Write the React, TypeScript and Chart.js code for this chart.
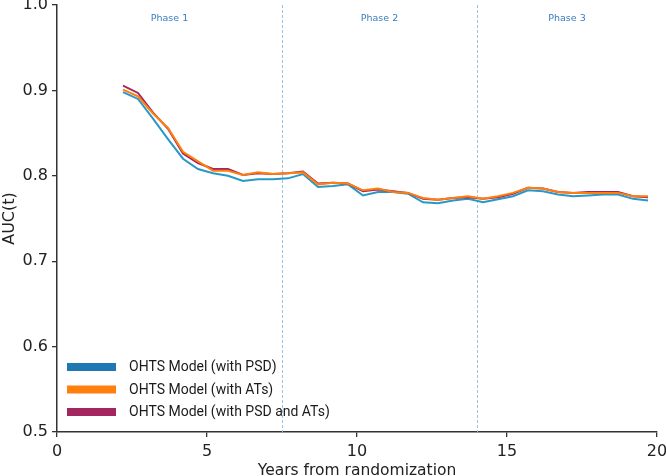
import React, { useEffect, useRef } from "react";
import { Chart, registerables } from "chart.js";

Chart.register(...registerables);

const years = [2.2, 2.7, 3.2, 3.7, 4.2, 4.7, 5.2, 5.7, 6.2, 6.7, 7.2, 7.7, 8.2, 8.7, 9.2, 9.7, 10.2, 10.7, 11.2, 11.7, 12.2, 12.7, 13.2, 13.7, 14.2, 14.7, 15.2, 15.7, 16.2, 16.7, 17.2, 17.7, 18.2, 18.7, 19.2, 19.7];
const aucPSD = [0.898, 0.89, 0.867, 0.843, 0.82, 0.808, 0.803, 0.8, 0.794, 0.796, 0.796, 0.797, 0.802, 0.787, 0.788, 0.79, 0.777, 0.781, 0.781, 0.779, 0.769, 0.768, 0.771, 0.773, 0.769, 0.7725, 0.776, 0.783, 0.782, 0.778, 0.776, 0.777, 0.778, 0.778, 0.773, 0.771];
const aucATs = [0.901, 0.893, 0.873, 0.856, 0.828, 0.817, 0.806, 0.806, 0.801, 0.804, 0.802, 0.803, 0.804, 0.79, 0.792, 0.791, 0.783, 0.785, 0.781, 0.78, 0.774, 0.772, 0.774, 0.776, 0.773, 0.776, 0.78, 0.786, 0.785, 0.781, 0.78, 0.78, 0.78, 0.78, 0.776, 0.776];
const aucPSDATs = [0.9055, 0.897, 0.874, 0.855, 0.826, 0.815, 0.808, 0.808, 0.801, 0.803, 0.802, 0.803, 0.805, 0.791, 0.792, 0.791, 0.782, 0.784, 0.782, 0.78, 0.773, 0.772, 0.774, 0.775, 0.773, 0.775, 0.779, 0.786, 0.785, 0.781, 0.78, 0.781, 0.781, 0.781, 0.776, 0.775];

const seriesLabels = ["OHTS Model (with PSD)", "OHTS Model (with ATs)", "OHTS Model (with PSD and ATs)"];
const lineColors = ["#2898c8", "#ff7f0e", "#a3275e"];
const legendColors = ["#1f77b4", "#ff7f0e", "#a3275e"];

const phaseBoundaries = [7.5, 14];
const phaseLabels = ["Phase 1", "Phase 2", "Phase 3"];
const xRange = [0, 20];
const yRange = [0.5, 1.0];

const TICK_FONT = { family: "'DejaVu Sans', sans-serif", size: 16 };

const zeroPad = (s: any) => {
  s.paddingTop = 0;
  s.paddingBottom = 0;
  s.paddingLeft = 0;
  s.paddingRight = 0;
};

const overlayPlugin = {
  id: "overlay",
  beforeDatasetsDraw(chart: any) {
    const { ctx, chartArea, scales } = chart;
    ctx.save();
    ctx.strokeStyle = "#9cc3e0";
    ctx.lineWidth = 1;
    ctx.setLineDash([3, 2]);
    phaseBoundaries.forEach((b) => {
      const px = Math.round(scales.x.getPixelForValue(b)) + 0.5;
      ctx.beginPath();
      ctx.moveTo(px, chartArea.top);
      ctx.lineTo(px, chartArea.bottom);
      ctx.stroke();
    });
    ctx.restore();
  },
  afterDraw(chart: any) {
    const { ctx, chartArea, scales } = chart;
    ctx.save();
    const edges = [xRange[0], ...phaseBoundaries, xRange[1]];
    ctx.fillStyle = "#3a7cbd";
    ctx.font = "9.5px 'DejaVu Sans', sans-serif";
    ctx.textAlign = "center";
    ctx.textBaseline = "middle";
    phaseLabels.forEach((lbl, i) => {
      const cx = scales.x.getPixelForValue((edges[i] + edges[i + 1]) / 2);
      ctx.fillText(lbl, cx, chartArea.top + 14);
    });
    ctx.font = "14px Roboto, sans-serif";
    ctx.textAlign = "left";
    ctx.textBaseline = "middle";
    seriesLabels.forEach((lbl, i) => {
      const cy = chartArea.bottom - 65 + i * 22.5;
      ctx.fillStyle = legendColors[i];
      ctx.fillRect(chartArea.left + 10, cy - 4, 49, 8);
      ctx.fillStyle = "#1a1a1a";
      ctx.fillText(lbl, chartArea.left + 72, cy + 0.5);
    });
    ctx.restore();
  },
};

export default function App() {
  const ref = useRef<HTMLCanvasElement | null>(null);
  useEffect(() => {
    document.body.style.margin = "0";
    const series = [aucPSD, aucATs, aucPSDATs];
    const orders = [2, 0, 1];
    const chart = new Chart(ref.current as HTMLCanvasElement, {
      type: "line",
      data: {
        datasets: series.map((arr, i) => ({
          label: seriesLabels[i],
          data: years.map((x, j) => ({ x, y: arr[j] })),
          borderColor: lineColors[i],
          backgroundColor: lineColors[i],
          borderWidth: 2,
          pointRadius: 0,
          tension: 0,
          order: orders[i],
        })),
      },
      options: {
        responsive: false,
        animation: false,
        events: [],
        layout: { padding: { top: 5, right: 9, left: 0, bottom: 0 } },
        plugins: { legend: { display: false }, tooltip: { enabled: false } },
        scales: {
          x: {
            type: "linear",
            min: xRange[0],
            max: xRange[1],
            ticks: { stepSize: 5, font: TICK_FONT, color: "#222", padding: 5 },
            grid: { drawOnChartArea: false, drawTicks: true, tickLength: 5, color: "#333", lineWidth: 1.3 },
            border: { color: "#333", width: 1.5 },
            title: {
              display: true,
              text: "Years from randomization",
              font: { family: "'DejaVu Sans', sans-serif", size: 15.5 },
              color: "#222",
              padding: { top: 0, bottom: -4 },
            },
            afterFit: (s: any) => {
              s.height = 44;
              zeroPad(s);
            },
          },
          y: {
            type: "linear",
            min: yRange[0],
            max: yRange[1],
            ticks: {
              stepSize: 0.1,
              font: TICK_FONT,
              color: "#222",
              padding: 4,
              callback: (v: any) => Number(v).toFixed(1),
            },
            grid: { drawOnChartArea: false, drawTicks: true, tickLength: 5, color: "#333", lineWidth: 1.3 },
            border: { color: "#333", width: 1.5 },
            title: {
              display: true,
              text: "AUC(t)",
              font: { family: "'DejaVu Sans', sans-serif", size: 16 },
              color: "#222",
              padding: { top: 0, bottom: 0 },
            },
            afterFit: (s: any) => {
              s.width = 57;
              zeroPad(s);
            },
          },
        },
      },
      plugins: [overlayPlugin],
    } as any);
    return () => chart.destroy();
  }, []);
  return (
    <div style={{ position: "absolute", left: 0, top: 0, width: 666, height: 476, background: "#fff" }}>
      <canvas ref={ref} width={666} height={476} />
    </div>
  );
}
